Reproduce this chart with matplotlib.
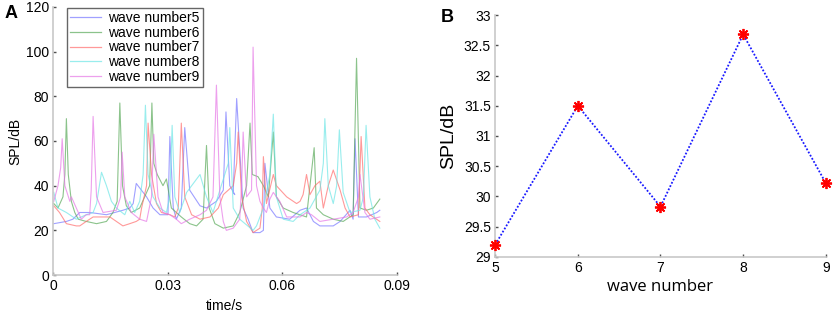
import numpy as np
import matplotlib
matplotlib.use("Agg")
import matplotlib.pyplot as plt

plt.rcParams['font.family'] = ['Liberation Sans', 'DejaVu Sans']

# ---- panel A : SPL time series ----
t5 = [0.0002, 0.0035, 0.0052, 0.0070, 0.0096, 0.0140, 0.0183, 0.0201, 0.0210, 0.0218, 0.0245, 0.0262,
      0.0280, 0.0301, 0.0306, 0.0315, 0.0323, 0.0336, 0.0345, 0.0358, 0.0385, 0.0402, 0.0428, 0.0446,
      0.0453, 0.0463, 0.0476, 0.0472, 0.0481, 0.0498, 0.0511, 0.0524, 0.0542, 0.0551, 0.0555, 0.0568,
      0.0585, 0.0620, 0.0647, 0.0664, 0.0682, 0.0699, 0.0734, 0.0752, 0.0778, 0.0786, 0.0791, 0.0800,
      0.0821, 0.0848, 0.0856]
y5 = [23, 24, 25, 28, 28, 27, 29, 30, 32, 41, 35, 30,
      27, 27, 62, 30, 25, 30, 66, 38, 31, 30, 33, 38,
      73, 40, 36, 37, 79, 30, 25, 19, 19, 20, 50, 30,
      26, 25, 29, 30, 24, 22, 22, 24, 29, 25, 61, 26,
      26, 28, 29]

t6 = [0.0002, 0.0013, 0.0026, 0.0031, 0.0035, 0.0040, 0.0048, 0.0057, 0.0066, 0.0087, 0.0114, 0.0140,
      0.0157, 0.0168, 0.0175, 0.0182, 0.0192, 0.0205, 0.0227, 0.0253, 0.0259, 0.0264, 0.0273, 0.0288,
      0.0297, 0.0310, 0.0336, 0.0358, 0.0376, 0.0393, 0.0402, 0.0409, 0.0424, 0.0446, 0.0472, 0.0489,
      0.0507, 0.0516, 0.0522, 0.0537, 0.0551, 0.0564, 0.0577, 0.0585, 0.0603, 0.0629, 0.0664, 0.0684,
      0.0690, 0.0708, 0.0734, 0.0760, 0.0786, 0.0795, 0.0804, 0.0821, 0.0839, 0.0856]
y6 = [32, 30, 35, 45, 70, 45, 33, 28, 25, 24, 23, 24,
      28, 33, 77, 40, 31, 28, 30, 40, 77, 50, 45, 40,
      43, 30, 26, 23, 22, 25, 58, 30, 23, 21, 22, 28,
      40, 68, 45, 44, 40, 35, 64, 35, 30, 28, 26, 57,
      30, 27, 25, 24, 27, 97, 30, 29, 30, 34]

t7 = [0.0002, 0.0017, 0.0035, 0.0061, 0.0070, 0.0087, 0.0105, 0.0149, 0.0166, 0.0183, 0.0201, 0.0218,
      0.0227, 0.0232, 0.0245, 0.0249, 0.0258, 0.0271, 0.0284, 0.0306, 0.0319, 0.0328, 0.0336, 0.0345,
      0.0363, 0.0385, 0.0411, 0.0433, 0.0446, 0.0472, 0.0481, 0.0485, 0.0494, 0.0507, 0.0524, 0.0542,
      0.0548, 0.0551, 0.0559, 0.0577, 0.0585, 0.0612, 0.0638, 0.0647, 0.0655, 0.0664, 0.0673, 0.0686,
      0.0699, 0.0708, 0.0721, 0.0734, 0.0752, 0.0765, 0.0778, 0.0800, 0.0807, 0.0817, 0.0830, 0.0856]
y7 = [31, 28, 23, 22, 22, 24, 26, 26, 24, 22, 23, 24,
      25, 30, 40, 68, 45, 32, 28, 27, 26, 30, 68, 35,
      27, 25, 26, 30, 36, 40, 50, 64, 35, 24, 19, 21,
      30, 53, 32, 45, 40, 35, 32, 33, 36, 45, 36, 40,
      42, 30, 40, 47, 38, 30, 26, 27, 62, 30, 27, 24]

t8 = [0.0002, 0.0013, 0.0035, 0.0061, 0.0087, 0.0105, 0.0114, 0.0127, 0.0140, 0.0153, 0.0166, 0.0188,
      0.0201, 0.0214, 0.0227, 0.0236, 0.0242, 0.0249, 0.0262, 0.0280, 0.0297, 0.0306, 0.0312, 0.0319,
      0.0332, 0.0350, 0.0385, 0.0402, 0.0419, 0.0437, 0.0459, 0.0463, 0.0472, 0.0489, 0.0524, 0.0533,
      0.0551, 0.0568, 0.0577, 0.0585, 0.0603, 0.0629, 0.0647, 0.0673, 0.0699, 0.0708, 0.0712, 0.0721,
      0.0734, 0.0743, 0.0750, 0.0760, 0.0778, 0.0804, 0.0813, 0.0820, 0.0830, 0.0843, 0.0856]
y8 = [37, 30, 28, 25, 27, 28, 32, 46, 40, 33, 30, 27,
      33, 28, 33, 45, 76, 45, 35, 30, 28, 35, 67, 35,
      28, 37, 45, 35, 28, 38, 50, 66, 30, 25, 20, 22,
      30, 45, 72, 35, 25, 24, 27, 30, 38, 50, 70, 40,
      32, 40, 65, 37, 28, 29, 35, 67, 35, 25, 21]

t9 = [0.0002, 0.0013, 0.0020, 0.0024, 0.0031, 0.0044, 0.0048, 0.0061, 0.0074, 0.0087, 0.0096, 0.0100,
      0.0105, 0.0114, 0.0131, 0.0166, 0.0177, 0.0181, 0.0188, 0.0205, 0.0227, 0.0245, 0.0258, 0.0264,
      0.0275, 0.0288, 0.0306, 0.0323, 0.0336, 0.0358, 0.0385, 0.0402, 0.0419, 0.0428, 0.0437, 0.0446,
      0.0454, 0.0472, 0.0489, 0.0494, 0.0498, 0.0507, 0.0520, 0.0524, 0.0533, 0.0542, 0.0551, 0.0559,
      0.0568, 0.0577, 0.0594, 0.0612, 0.0647, 0.0664, 0.0677, 0.0699, 0.0734, 0.0769, 0.0786, 0.0800,
      0.0804, 0.0817, 0.0830, 0.0856]
y9 = [33, 40, 48, 61, 40, 33, 35, 30, 25, 27, 27, 38,
      71, 35, 28, 29, 35, 55, 35, 28, 25, 24, 35, 63,
      35, 28, 27, 25, 23, 25, 27, 29, 35, 85, 35, 24,
      20, 21, 25, 40, 64, 35, 38, 102, 40, 33, 30, 28,
      34, 37, 33, 26, 26, 28, 27, 24, 25, 26, 28, 35,
      45, 28, 25, 26]

series = [(t5, y5, '#7878ff', 'wave number5'),
          (t6, y6, '#5aaa5a', 'wave number6'),
          (t7, y7, '#ff6e6e', 'wave number7'),
          (t8, y8, '#6ee6e6', 'wave number8'),
          (t9, y9, '#e678e6', 'wave number9')]

# ---- panel B : mean SPL per wave number ----
wave_no = [5, 6, 7, 8, 9]
spl_mean = [29.2, 31.5, 29.83, 32.68, 30.22]

fig = plt.figure(figsize=(8.35, 3.14), dpi=100)

spine_col = '#c8c8c8'
tick_col = '#505050'

# panel A
ax1 = fig.add_axes([0.0635, 0.124, 0.4115, 0.854])
for t, y, c, lab in series:
    ax1.plot(t, y, color=c, lw=0.8, alpha=0.7, label=lab)
ax1.set_xlim(0, 0.09)
ax1.set_ylim(0, 120)
ax1.set_xticks([0, 0.03, 0.06, 0.09])
ax1.set_xticklabels(['0', '0.03', '0.06', '0.09'])
ax1.set_yticks(np.arange(0, 121, 20))
ax1.set_xlabel('time/s', fontsize=10, labelpad=4)
ax1.set_ylabel('SPL/dB', fontsize=10, labelpad=2)
leg = ax1.legend(loc='upper left', bbox_to_anchor=(0.04, 0.995), fontsize=10, frameon=True,
                 fancybox=False, handlelength=2.3, labelspacing=0.05, borderpad=0.2,
                 handletextpad=0.5, borderaxespad=0)
leg.get_frame().set_edgecolor('#404040')
leg.get_frame().set_linewidth(1.0)
for h in leg.get_lines():
    h.set_linewidth(0.9)
ax1.text(-0.14, 0.975, 'A', transform=ax1.transAxes, fontsize=13, fontweight='bold', va='center')

# panel B
ax2 = fig.add_axes([0.593, 0.182, 0.396, 0.770])
ax2.plot(wave_no, spl_mean, linestyle=(0, (1, 1)), color='#1a1aff', lw=1.3)
ax2.plot(wave_no, spl_mean, linestyle='none', marker=(8, 2, 0), ms=8, mew=1.3, color='red',
         clip_on=False, zorder=5)
ax2.set_xlim(5, 9)
ax2.set_ylim(29, 33)
ax2.set_xticks(wave_no)
ax2.set_yticks(np.arange(29, 33.01, 0.5))
ax2.set_yticklabels(['29', '29.5', '30', '30.5', '31', '31.5', '32', '32.5', '33'])
ax2.set_xlabel('wave number', fontsize=12, family=['Open Sans', 'DejaVu Sans'], labelpad=3)
ax2.set_ylabel('SPL/dB', fontsize=14, labelpad=5)
ax2.text(-0.165, 0.99, 'B', transform=ax2.transAxes, fontsize=13, fontweight='bold', va='center')

for ax in (ax1, ax2):
    for s in ('top', 'right'):
        ax.spines[s].set_visible(False)
    for s in ('left', 'bottom'):
        ax.spines[s].set_color(spine_col)
        ax.spines[s].set_linewidth(1.2)
    ax.tick_params(direction='in', length=2, width=1, color=tick_col, labelsize=10, pad=3)
    ax.patch.set_visible(False)

fig.savefig('out.png', dpi=100)
